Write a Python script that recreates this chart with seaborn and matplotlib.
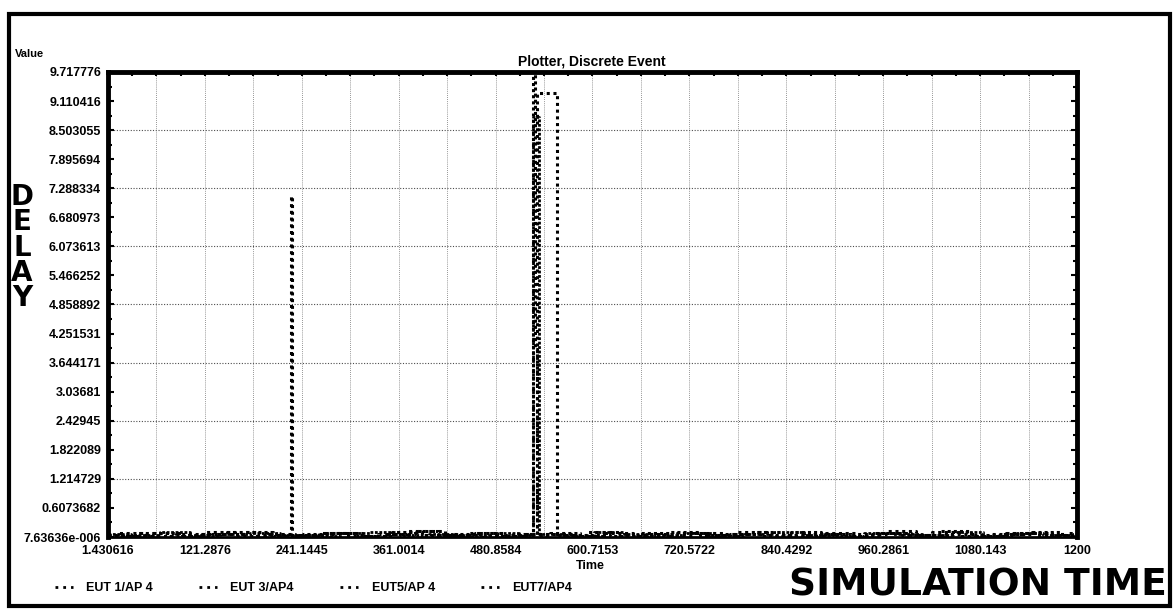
import matplotlib
matplotlib.use("Agg")

import pandas as pd
import seaborn as sns
from matplotlib import pyplot as plt
from matplotlib.lines import Line2D
from matplotlib.patches import Rectangle

# tick labels as printed by the plotter
y_labels = ["7.63636e-006", "0.6073682", "1.214729", "1.822089", "2.42945", "3.03681",
            "3.644171", "4.251531", "4.858892", "5.466252", "6.073613", "6.680973",
            "7.288334", "7.895694", "8.503055", "9.110416", "9.717776"]
x_labels = ["1.430616", "121.2876", "241.1445", "361.0014", "480.8584", "600.7153",
            "720.5722", "840.4292", "960.2861", "1080.143", "1200"]

series_names = ["EUT 1/AP 4", "EUT 3/AP4", "EUT5/AP 4", "EUT7/AP4"]

t_eut1 = [1.4, 38, 74, 112, 149, 186, 221, 227.5, 229.5, 262, 298, 335, 371, 409, 446, 483, 519, 556,
          594, 631, 668, 705, 742, 779, 816, 853, 890, 927, 964, 1001, 1038, 1075, 1112, 1149, 1186, 1200]
v_eut1 = [0.03, 0.08, 0.02, 0.06, 0.11, 0.04, 0.07, 7.13, 0.05, 0.09, 0.03, 0.06, 0.12, 0.04, 0.08, 0.02, 0.07, 0.05,
          0.1, 0.03, 0.06, 0.09, 0.04, 0.11, 0.05, 0.02, 0.08, 0.06, 0.12, 0.04, 0.07, 0.03, 0.09, 0.05, 0.08, 0.08]

t_eut3 = [1.4, 20, 57, 93, 130, 168, 205, 243, 280, 316, 353, 390, 427, 465, 502, 527, 529.5, 531.5, 548,
          585, 622, 660, 697, 734, 771, 808, 846, 883, 920, 957, 995, 1032, 1069, 1106, 1144, 1181, 1200]
v_eut3 = [0.05, 0.02, 0.09, 0.04, 0.07, 0.1, 0.03, 0.06, 0.08, 0.02, 0.11, 0.05, 0.07, 0.03, 0.06, 9.717776, 3.92, 0.04, 0.09,
          0.05, 0.02, 0.08, 0.11, 0.04, 0.06, 0.03, 0.1, 0.07, 0.02, 0.09, 0.05, 0.12, 0.04, 0.06, 0.1, 0.03, 0.03]

t_eut5 = [1.4, 30, 66, 103, 140, 177, 214, 251, 288, 325, 362, 399, 436, 473, 510, 527, 534.5, 566,
          603, 640, 677, 714, 751, 788, 825, 862, 899, 936, 973, 1010, 1047, 1084, 1121, 1158, 1195, 1200]
v_eut5 = [0.07, 0.04, 0.1, 0.02, 0.06, 0.09, 0.05, 0.03, 0.08, 0.11, 0.04, 0.06, 0.02, 0.09, 0.05, 8.78, 0.06, 0.03,
          0.1, 0.07, 0.04, 0.08, 0.02, 0.06, 0.11, 0.05, 0.03, 0.09, 0.07, 0.04, 0.1, 0.02, 0.08, 0.05, 0.06, 0.06]

t_eut7 = [1.4, 12, 49, 86, 122, 159, 196, 233, 270, 307, 344, 381, 418, 455, 492, 532, 557, 577,
          614, 651, 688, 725, 762, 799, 836, 873, 910, 947, 984, 1021, 1058, 1095, 1132, 1169, 1200]
v_eut7 = [0.04, 0.08, 0.03, 0.06, 0.1, 0.02, 0.07, 0.05, 0.09, 0.03, 0.06, 0.12, 0.04, 0.08, 0.05, 9.28, 0.07, 0.03,
          0.09, 0.05, 0.02, 0.08, 0.06, 0.1, 0.04, 0.07, 0.03, 0.09, 0.05, 0.11, 0.02, 0.06, 0.08, 0.04, 0.04]

W, H = 1176, 609


def fx(px):
    return px / W


def fy(py):
    return 1 - py / H


sns.set_style("white", {"axes.edgecolor": "black", "text.color": "black",
                        "xtick.color": "black", "ytick.color": "black"})
plt.rcParams["font.family"] = ["Liberation Sans", "DejaVu Sans"]

fig = plt.figure(figsize=(W / 100, H / 100), dpi=100)
ax = fig.add_axes([fx(108), fy(537), (1077 - 108) / W, (537 - 72) / H])

y_vals = [float(s) for s in y_labels]
x_vals = [float(s) for s in x_labels]

# dotted grid: every second y tick, every half x interval
for y in y_vals[2:-1:2]:
    ax.axhline(y, color="0.3", lw=0.8, ls=(0, (1, 1.5)), zorder=0)
x_half = [(a + b) / 2 for a, b in zip(x_vals[:-1], x_vals[1:])]
for x in sorted(x_vals[1:-1] + x_half):
    ax.axvline(x, color="0.45", lw=0.6, ls=(0, (1, 1.5)), zorder=0)

styles = [(2.2, (0, (1, 1.2))), (2.2, (0, (1, 1.0))), (2.0, (0, (1, 0.6))), (2.2, (0, (1, 1.2)))]
data = [(t_eut1, v_eut1), (t_eut3, v_eut3), (t_eut5, v_eut5), (t_eut7, v_eut7)]
for (t, v), (lw, ls) in zip(data, styles):
    df = pd.DataFrame({"Time": t, "Value": v})
    sns.lineplot(data=df, x="Time", y="Value", ax=ax, color="black", estimator=None,
                 sort=False, drawstyle="steps-post", linewidth=lw, linestyle=ls, legend=False)

ax.set_xlim(x_vals[0], x_vals[-1])
ax.set_ylim(y_vals[0], y_vals[-1])
ax.set_xticks(x_vals)
ax.set_xticklabels(x_labels, fontsize=9, fontweight="bold")
ax.set_yticks(y_vals)
ax.set_yticklabels(y_labels, fontsize=9, fontweight="bold")
x_quarter = [a + (b - a) * k / 4 for a, b in zip(x_vals[:-1], x_vals[1:]) for k in (1, 2, 3)]
ax.set_xticks(x_quarter, minor=True)
y_half = [(a + b) / 2 for a, b in zip(y_vals[:-1], y_vals[1:])]
ax.set_yticks(y_half, minor=True)
ax.set_xlabel("")
ax.set_ylabel("")

ax.tick_params(axis="x", which="both", direction="in", top=True, bottom=False, length=3, width=1.5, pad=6)
ax.tick_params(axis="y", which="both", direction="in", left=True, right=True, width=1.5, pad=5)
ax.tick_params(axis="y", which="major", length=4)
ax.tick_params(axis="y", which="minor", length=3)

for side in ["left", "top", "right"]:
    ax.spines[side].set_linewidth(3.5)
ax.spines["bottom"].set_linewidth(2)

fig.text(fx(592), fy(65), "Plotter, Discrete Event", ha="center", va="baseline",
         fontsize=10, fontweight="bold")
fig.text(fx(15), fy(57), "Value", ha="left", va="baseline", fontsize=8, fontweight="bold")
fig.text(fx(590), fy(569), "Time", ha="center", va="baseline", fontsize=9, fontweight="bold")

fig.text(fx(22), fy(183), "D\nE\nL\nA\nY", ha="center", va="top", fontsize=20,
         fontweight="bold", linespacing=0.88, family="DejaVu Sans")
fig.text(fx(1167), fy(595), "SIMULATION TIME", ha="right", va="baseline", fontsize=27,
         fontweight="bold", family="DejaVu Sans")

handles = [Line2D([], [], color="black", lw=2, ls=(0, (1, 1.8))) for _ in series_names]
fig.legend(handles, series_names, loc="center left", bbox_to_anchor=(fx(55), fy(588)),
           ncol=4, frameon=False, borderpad=0, borderaxespad=0, handlelength=1.4,
           handletextpad=1.1, columnspacing=3.7, prop={"size": 9, "weight": "bold"})

fig.add_artist(Rectangle((fx(9), fy(606)), (1170 - 9) / W, (606 - 14) / H,
                         transform=fig.transFigure, fill=False, lw=3, ec="black"))

fig.savefig("out.png", dpi=100)
